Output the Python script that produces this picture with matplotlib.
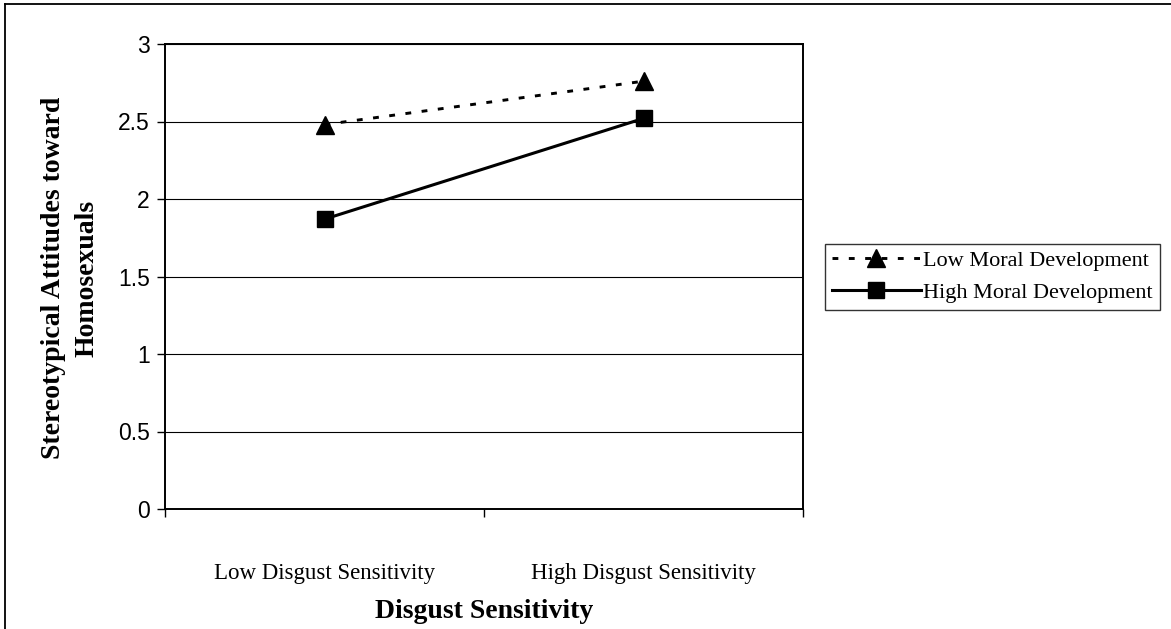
import matplotlib
matplotlib.use("Agg")
import matplotlib.pyplot as plt
from matplotlib.lines import Line2D

categories = ["Low Disgust Sensitivity", "High Disgust Sensitivity"]
low_moral = [2.48, 2.76]
high_moral = [1.87, 2.52]
series_labels = ["Low Moral Development", "High Moral Development"]
yticks = [0, 0.5, 1, 1.5, 2, 2.5, 3]
ytick_labels = ["0", "0.5", "1", "1.5", "2", "2.5", "3"]

W, H = 1171, 629
fig = plt.figure(figsize=(W / 100, H / 100), dpi=100)
ax = fig.add_axes([165 / W, 1 - 509 / H, (803 - 165) / W, (509 - 44) / H])

x = [0.5, 1.5]
ax.plot(x, low_moral, linestyle=(0, (2.0, 3.6)), color="black", linewidth=2.1,
        marker="^", markersize=13, label=series_labels[0])
ax.plot(x, high_moral, linestyle="-", color="black", linewidth=2.2,
        marker="s", markersize=11.5, label=series_labels[1])

ax.set_xlim(0, 2)
ax.set_ylim(0, 3)
ax.set_yticks(yticks)
ax.set_yticklabels(ytick_labels, family="Liberation Sans", fontsize=16.5)
ax.set_xticks([0, 1, 2])
ax.set_xticklabels([])
ax.set_xticks(x, minor=True)
ax.set_xticklabels(categories, minor=True, family="Liberation Serif", fontsize=16.5)
ax.tick_params(axis="x", which="minor", length=0, pad=39)
ax.tick_params(axis="x", which="major", direction="out", length=6, width=1)
ax.tick_params(axis="y", direction="out", length=6, width=1, pad=5)
ax.grid(axis="y", color="black", linewidth=0.8)
ax.set_axisbelow(True)
for s in ax.spines.values():
    s.set_color("black")
    s.set_linewidth(1.4)

fig.text(484 / W, 1 - 611 / H, "Disgust Sensitivity", family="Liberation Serif",
         fontweight="bold", fontsize=20, ha="center", va="center")
fig.text(70 / W, 1 - 278 / H, "Stereotypical Attitudes toward\nHomosexuals",
         family="Liberation Serif", fontweight="bold", fontsize=20, rotation=90,
         ha="center", va="center", multialignment="center", linespacing=1.45)

leg = fig.legend(loc="upper left", bbox_to_anchor=(825 / W, 1 - 244 / H),
                 prop={"family": "Liberation Serif", "size": 16}, frameon=True,
                 fancybox=False, edgecolor="black", handlelength=4.0,
                 handletextpad=0.12, borderpad=0.3, labelspacing=0.5,
                 borderaxespad=0)
leg.get_frame().set_linewidth(1.0)

fig.add_artist(Line2D([5 / W, 5 / W], [0, 1 - 4 / H], transform=fig.transFigure,
                      color="black", linewidth=1.3))
fig.add_artist(Line2D([5 / W, 1], [1 - 4 / H, 1 - 4 / H], transform=fig.transFigure,
                      color="black", linewidth=1.3))

fig.savefig("out.png", dpi=100)
